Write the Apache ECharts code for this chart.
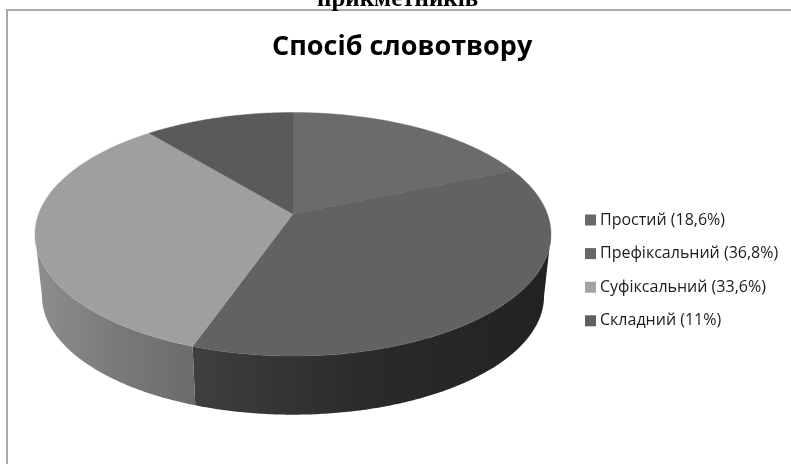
<!DOCTYPE html>
<html><head><meta charset="utf-8">
<style>html,body{margin:0;padding:0;background:#fff}#c{width:791px;height:464px}</style>
<script src="https://cdn.jsdelivr.net/npm/echarts@6/dist/echarts.min.js"></script>
</head><body><div id="c"></div>
<script>
const categories = ['Простий (18,6%)','Префіксальний (36,8%)','Суфіксальний (33,6%)','Складний (11%)'];
const values = [18.6, 36.8, 33.6, 11];
const topColors = ['#6b6b6b','#626262','#9f9f9f','#5a5a5a'];
const legendColors = ['#696969','#666666','#a3a3a3','#606060'];
const sideStops = [null, ['#3f3f3f','#2a2a2a','#222222'], ['#8e8e8e','#7a7a7a','#6b6b6b'], null];
const chartTitle = 'Спосіб словотвору';
const cutOffTitle = 'прикметників';

// Perspective pie: circle (u,v) projected with X=cx+A*u/w, Y=cy+B*v/w, w=1-k*v
const geo = {cx:293, cy:214, A:254.4, B:118.4, k:0.1663, baseScale:0.973, baseCy:276.5};
const total = values.reduce((a,b)=>a+b,0);
const silhouette = Math.acos(-geo.k);

function project(theta, scale, cy){
  const u = Math.sin(theta), v = -Math.cos(theta), w = 1 - geo.k*v;
  return [geo.cx + scale*geo.A*u/w, cy + scale*geo.B*v/w];
}
function arc(a0, a1, scale, cy){
  const n = Math.max(2, Math.ceil((a1-a0)/0.01)), pts = [];
  for(let i=0;i<=n;i++) pts.push(project(a0+(a1-a0)*i/n, scale, cy));
  return pts;
}
const cum = [];
values.reduce((acc,v,i)=>{cum[i]=acc; return acc+v;},0);

function makeRender(i){
  return function(){
    const a0 = cum[i]/total*2*Math.PI, a1 = (cum[i]+values[i])/total*2*Math.PI;
    const children = [];
    const s0 = Math.max(a0, silhouette), s1 = Math.min(a1, 2*Math.PI-silhouette);
    if(sideStops[i] && s1 > s0){
      const pts = arc(s0,s1,1,geo.cy).concat(arc(s0,s1,geo.baseScale,geo.baseCy).reverse());
      const c = sideStops[i];
      children.push({type:'polygon', shape:{points:pts}, style:{
        fill:new echarts.graphic.LinearGradient(0,0,1,0,[{offset:0,color:c[0]},{offset:0.5,color:c[1]},{offset:1,color:c[2]}]),
        stroke:null}});
    }
    const top = [[geo.cx,geo.cy]].concat(arc(a0,a1,1,geo.cy));
    children.push({type:'polygon', shape:{points:top}, style:{fill:topColors[i], stroke:topColors[i], lineWidth:0.4}});
    return {type:'group', children};
  };
}

const chart = echarts.init(document.getElementById('c'), null, {renderer:'canvas'});
chart.setOption({
  animation:false,
  backgroundColor:'#ffffff',
  title:[
    {text:chartTitle, left:267, top:29, textStyle:{fontFamily:'Open Sans', fontWeight:'bold', fontSize:27, color:'#000'}},
    {text:cutOffTitle, left:312, top:-18, textStyle:{fontFamily:'Liberation Serif', fontWeight:'bold', fontSize:25, color:'#000'}}
  ],
  legend:{
    orient:'vertical', left:580, top:207, itemWidth:11, itemHeight:11, itemGap:17.6, icon:'rect',
    selectedMode:false,
    data:categories.map((c,i)=>({name:c, itemStyle:{color:legendColors[i]}})),
    textStyle:{fontFamily:'Open Sans', fontSize:16, color:'#1c1c1c', padding:[0,0,0,-1]}
  },
  graphic:[
    {type:'rect', z:-1, shape:{x:7,y:10,width:800,height:470}, style:{fill:'#fff',stroke:'#a9a9a9',lineWidth:2}}
  ],
  series:categories.map((c,i)=>({
    type:'custom', name:c, coordinateSystem:'none', silent:true, z:5,
    itemStyle:{color:legendColors[i]},
    renderItem:makeRender(i),
    data:[values[i]]
  }))
});
</script></body></html>
